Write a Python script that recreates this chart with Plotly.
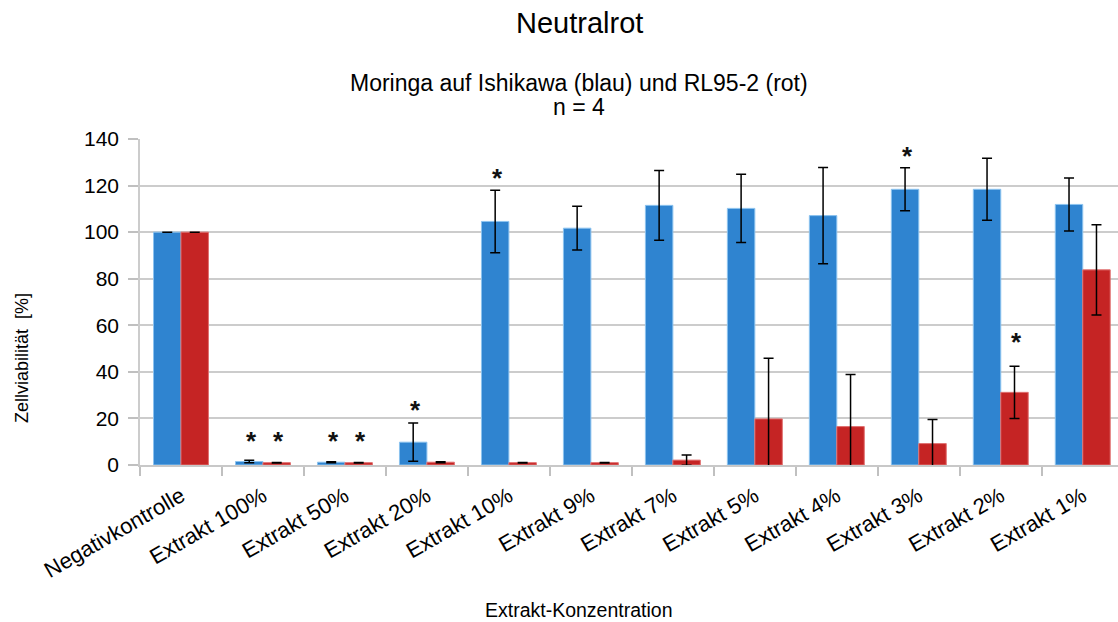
import plotly.graph_objects as go

categories = ["Negativkontrolle", "Extrakt 100%", "Extrakt 50%", "Extrakt 20%", "Extrakt 10%",
              "Extrakt 9%", "Extrakt 7%", "Extrakt 5%", "Extrakt 4%", "Extrakt 3%",
              "Extrakt 2%", "Extrakt 1%"]
ishikawa = [100, 1.5, 1.2, 9.8, 104.6, 101.7, 111.5, 110.2, 107.1, 118.4, 118.4, 111.9]
ishikawa_err = [0, 0.5, 0.2, 8.2, 13.4, 9.4, 15.0, 14.7, 20.7, 9.2, 13.3, 11.4]
rl95 = [100, 1.0, 1.0, 1.2, 1.0, 1.0, 2.1, 19.8, 16.5, 9.2, 31.2, 83.8]
rl95_err = [0, 0.1, 0.1, 0.2, 0.1, 0.1, 2.2, 26.0, 22.4, 10.3, 11.2, 19.4]
# significance markers: level (in %) at which the "*" is drawn, None = not significant
star_ishikawa = [None, 12.8, 12.8, 26.0, 125.7, None, None, None, None, 135.4, None, None]
star_rl95 = [None, 12.8, 12.8, None, None, None, None, None, None, None, 55.2, None]

FONT = "Liberation Sans, Arial, sans-serif"
BLUE = "#2f84d0"
RED = "#c52424"

fig = go.Figure()
fig.add_trace(go.Bar(
    x=categories, y=ishikawa, name="Ishikawa",
    marker=dict(color=BLUE, line=dict(color="#8cc3ef", width=1)),
    error_y=dict(type="data", array=ishikawa_err, color="black", thickness=1.5, width=5),
))
fig.add_trace(go.Bar(
    x=categories, y=rl95, name="RL95-2",
    marker=dict(color=RED, line=dict(color="#e07070", width=1)),
    error_y=dict(type="data", array=rl95_err, color="black", thickness=1.5, width=5),
))

annotations = []
for i, c in enumerate(categories):
    if star_ishikawa[i] is not None:
        annotations.append(dict(x=c, y=star_ishikawa[i], xref="x", yref="y",
                                text="<b>*</b>", showarrow=False, xshift=-11.7,
                                yanchor="middle", yshift=-6,
                                font=dict(family=FONT, size=26, color="#111")))
    if star_rl95[i] is not None:
        annotations.append(dict(x=c, y=star_rl95[i], xref="x", yref="y",
                                text="<b>*</b>", showarrow=False, xshift=15.7,
                                yanchor="middle", yshift=-6,
                                font=dict(family=FONT, size=26, color="#111")))

W = 978.0
def px(x):
    return (x - 140) / W

def py(y):
    return (465 - y) / 326.0

annotations += [
    dict(x=px(579), y=py(23), xref="paper", yref="paper", text="Neutralrot", showarrow=False,
         font=dict(family=FONT, size=29, color="black"), yanchor="middle", xanchor="center"),
    dict(x=px(579), y=py(83), xref="paper", yref="paper", text="Moringa auf Ishikawa (blau) und RL95-2 (rot)",
         showarrow=False, font=dict(family=FONT, size=23, color="black"), yanchor="middle", xanchor="center"),
    dict(x=px(579), y=py(107), xref="paper", yref="paper", text="n = 4",
         showarrow=False, font=dict(family=FONT, size=23, color="black"), yanchor="middle", xanchor="center"),
    dict(x=px(579), y=py(610), xref="paper", yref="paper", text="Extrakt-Konzentration",
         showarrow=False, font=dict(family=FONT, size=19.5, color="black"), yanchor="middle", xanchor="center"),
    dict(x=px(22), y=py(358), xref="paper", yref="paper", text="Zellviabilität \u00a0[%]", textangle=-90,
         showarrow=False, font=dict(family=FONT, size=18, color="black"), yanchor="middle", xanchor="center"),
]

fig.update_layout(
    width=1118, height=622,
    margin=dict(l=140, r=0, t=139, b=157, pad=0),
    paper_bgcolor="white", plot_bgcolor="white",
    showlegend=False,
    barmode="group", bargap=0.33, bargroupgap=0,
    font=dict(family=FONT, color="black"),
    annotations=annotations,
)

fig.update_xaxes(
    range=[-0.5, 11.43], tickangle=-30, tickfont=dict(family=FONT, size=22, color="black"),
    ticks="outside", tickson="boundaries", ticklen=9, tickcolor="#c0c0c0", tickwidth=1.5,
    ticklabelstandoff=8,
    showline=True, linecolor="#c8c8c8", linewidth=1.5, showgrid=False,
)
fig.update_yaxes(
    range=[0, 140], dtick=20, tickfont=dict(family=FONT, size=21, color="black"),
    showgrid=True, gridcolor="#cccccc", gridwidth=1.5,
    showline=True, linecolor="#cccccc", linewidth=1.5,
    ticks="outside", ticklen=10, tickcolor="#c0c0c0", tickwidth=1.5, ticklabelstandoff=5,
    zeroline=False,
)

fig.write_html("out.html")
